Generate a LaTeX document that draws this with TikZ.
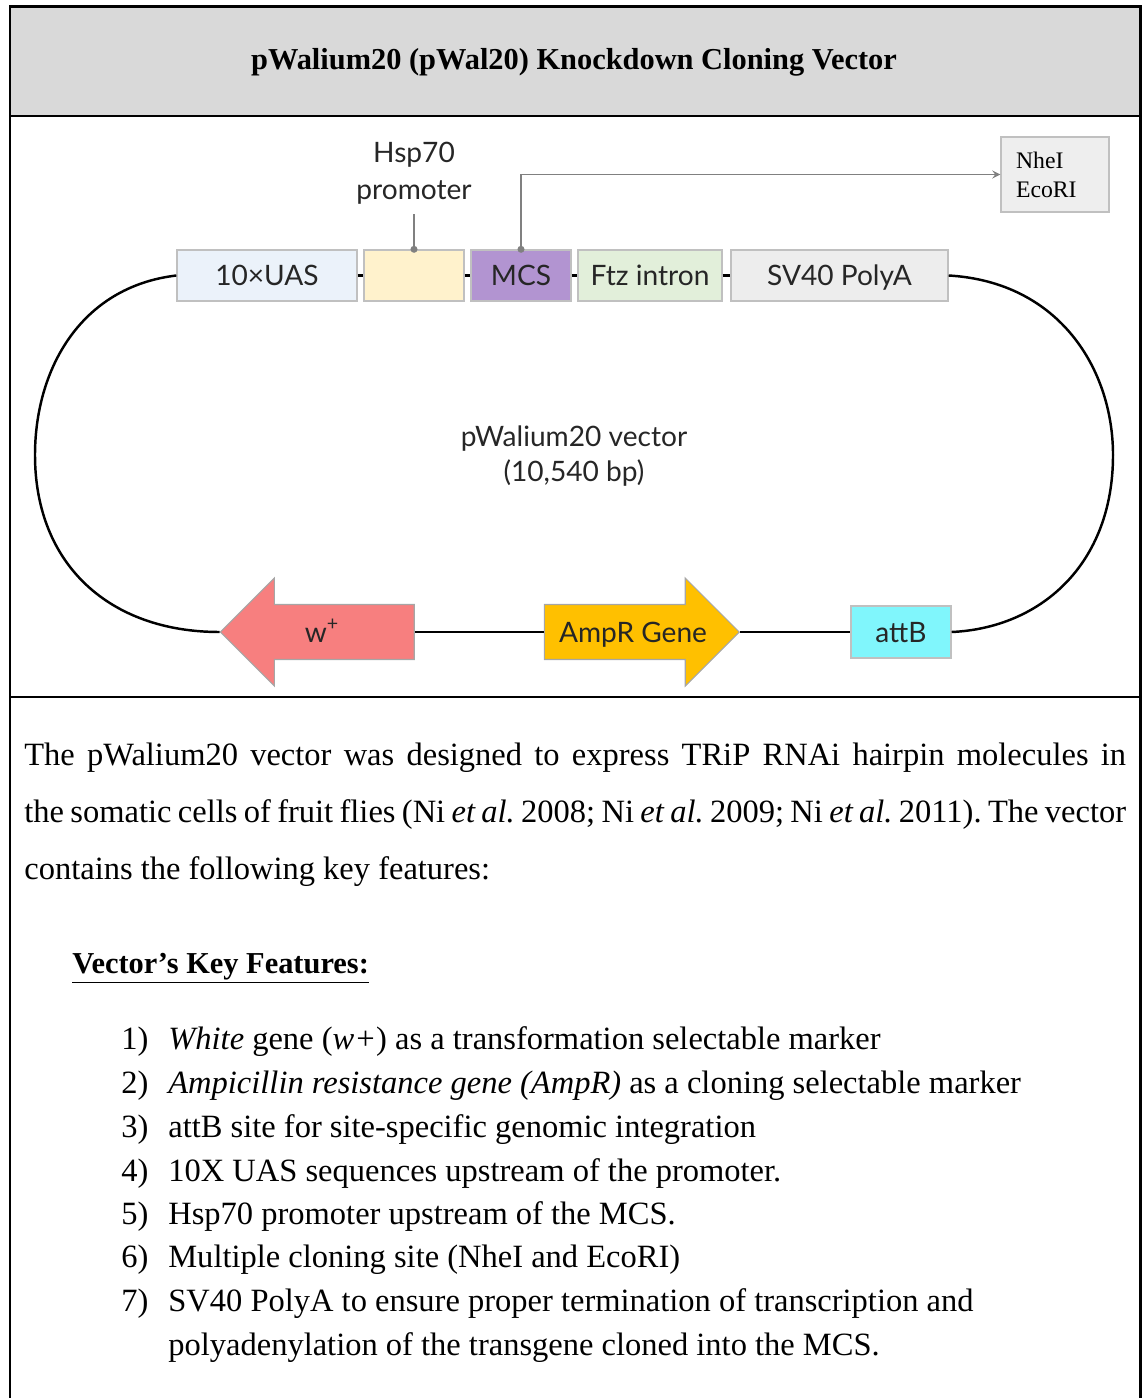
\documentclass[tikz,border=0pt]{standalone}
\usepackage{fontspec}
\setmainfont{Liberation Serif}
\newfontfamily\diagfont{Lato}
\usepackage{tikz}
\usetikzlibrary{shapes.arrows,arrows,positioning,calc}
\usepackage{xcolor}
\definecolor{headgray}{HTML}{D9D9D9}
\definecolor{uasblue}{HTML}{EBF2FA}
\definecolor{hspyellow}{HTML}{FFF2CC}
\definecolor{mcspurple}{HTML}{B294D1}
\definecolor{ftzgreen}{HTML}{E2EFDA}
\definecolor{polygray}{HTML}{EDEDED}
\definecolor{sitegray}{HTML}{EEEEEE}
\definecolor{whitered}{HTML}{F77F7F}
\definecolor{amprorange}{HTML}{FFC000}
\definecolor{attbcyan}{HTML}{80F6FC}
\definecolor{partedge}{HTML}{C0C0C0}
\definecolor{taggray}{HTML}{808080}
\definecolor{labelink}{HTML}{262626}
\newcommand{\lbl}{\diagfont\fontsize{16}{20}\selectfont\color{labelink}}
\newcommand{\etal}{\textit{et al.}}

\begin{document}
\begin{tikzpicture}[x=0.02cm,y=-0.02cm,
  part/.style={rectangle,draw=partedge,line width=0.8pt,minimum height=1.02cm,
               inner sep=0pt,text height=0.46cm,text depth=0.06cm,font=\lbl},
  gene/.style={single arrow,draw=black!35,line width=0.6pt,single arrow head extend=0.53cm,
               text height=0.46cm,text depth=0.06cm,inner ysep=0.28cm,inner xsep=0pt,font=\lbl},
  backbone/.style={line width=1.4pt},
  tag/.style={draw=taggray,line width=1pt},
  body/.style={anchor=base west,inner sep=0pt,font=\fontsize{18.5}{22}\selectfont\frenchspacing},
  frame/.style={line width=1.7pt}
]
\useasboundingbox (0,0) rectangle (1142,1398);

% page frame and title band
\fill[headgray] (10,7) rectangle (1140,116);
\draw[frame] (10,1398) -- (10,7) -- (1140,7) -- (1140,1398);
\draw[frame] (10,116) -- (1140,116);
\draw[frame] (10,697) -- (1140,697);
\node[font=\fontsize{17.3}{20}\selectfont\bfseries] (title) at (574,62)
  {pWalium20 (pWal20) Knockdown Cloning Vector};

% expression cassette
\node[part,fill=uasblue,minimum width=3.6cm]   (uas)   at (267,275.5)   {10×UAS};
\node[part,fill=hspyellow,minimum width=2cm]   (hsp)   at (414,275.5)   {};
\node[part,fill=mcspurple,minimum width=2cm]   (mcs)   at (521,275.5)   {MCS};
\node[part,fill=ftzgreen,minimum width=2.88cm] (ftz)   at (650,275.5)   {Ftz intron};
\node[part,fill=polygray,minimum width=4.34cm] (polya) at (839.5,275.5) {SV40 PolyA};

\node[font=\diagfont\fontsize{16}{21}\selectfont\color{labelink},align=center] (hsplabel) at (414,173)
  {Hsp70\\promoter};
\node[rectangle,draw=partedge,line width=0.8pt,fill=sitegray,inner xsep=0.3cm,
      text width=1.56cm,minimum height=1.5cm,align=left,
      font=\fontsize{13.5}{16.4}\selectfont] (sites) at (1055,174.5) {NheI\\EcoRI};

\node[font=\diagfont\fontsize{16}{20}\selectfont\color{labelink},align=center] (vecname) at (574,456)
  {pWalium20 vector\\(10,540 bp)};

% backbone genes
\node[gene,fill=whitered,minimum height=3.88cm,shape border rotate=180] (white) at (331,632)
  {w\textsuperscript{+}\hspace*{0.36cm}};
\node[gene,fill=amprorange,minimum height=3.9cm] (ampr) at (628,632) {\hspace*{0.2cm}AmpR Gene};
\node[part,fill=attbcyan,minimum width=2cm,minimum height=1.04cm] (attb) at (901,632) {attB};

\foreach \a/\b in {uas/hsp,hsp/mcs,mcs/ftz,ftz/polya}
  \draw[backbone] (\a) -- (\b);
\draw[backbone] (white.tail) -- (ampr.tail);
\draw[backbone] (ampr.tip) -- (attb);
\draw[backbone] (uas.west) .. controls (80,287) and (35,370) .. (35,455)
  .. controls (35,565) and (110,632) .. (white.tip);
\draw[backbone] (polya.east) .. controls (1060,282) and (1113,370) .. (1113,455)
  .. controls (1113,565) and (1040,628) .. (attb.east);

\draw[tag,shorten >=2pt] (hsp.north) -- (hsplabel.south);
\fill[taggray] (hsp.north) circle (2pt);
\draw[tag,->,>=stealth] (mcs.north) |- (sites.west);
\fill[taggray] (mcs.north) circle (2pt);

% description
\node[body] (intro1) at (24,765) {\makebox[22.04cm][s]{The pWalium20 vector was designed to express TRiP RNAi hairpin molecules in}};
\node[body] (intro2) at (24,822) {\makebox[22.04cm][s]{the somatic cells of fruit flies (Ni \etal{} 2008; Ni \etal{} 2009; Ni \etal{} 2011). The vector}};
\node[body] (intro3) at (24,879) {contains the following key features:};

\node[body,font=\fontsize{17.3}{20}\selectfont\bfseries] (keyhead) at (72,973) {\underline{Vector’s Key Features:}};

\foreach \i/\y in {1/1049,2/1093,3/1137,4/1181,5/1224,6/1267,7/1311}
  \node[body] (num\i) at (121,\y) {\i)};
\node[body] (feat1) at (168,1049) {\textit{White} gene (\textit{w+}) as a transformation selectable marker};
\node[body] (feat2) at (168,1093) {\textit{Ampicillin resistance gene (AmpR)} as a cloning selectable marker};
\node[body] (feat3) at (168,1137) {attB site for site-specific genomic integration};
\node[body] (feat4) at (168,1181) {10X UAS sequences upstream of the promoter.};
\node[body] (feat5) at (168,1224) {Hsp70 promoter upstream of the MCS.};
\node[body] (feat6) at (168,1267) {Multiple cloning site (NheI and EcoRI)};
\node[body] (feat7) at (168,1311) {SV40 PolyA to ensure proper termination of transcription and};
\node[body] (feat7b) at (168,1355) {polyadenylation of the transgene cloned into the MCS.};
\end{tikzpicture}
\end{document}
